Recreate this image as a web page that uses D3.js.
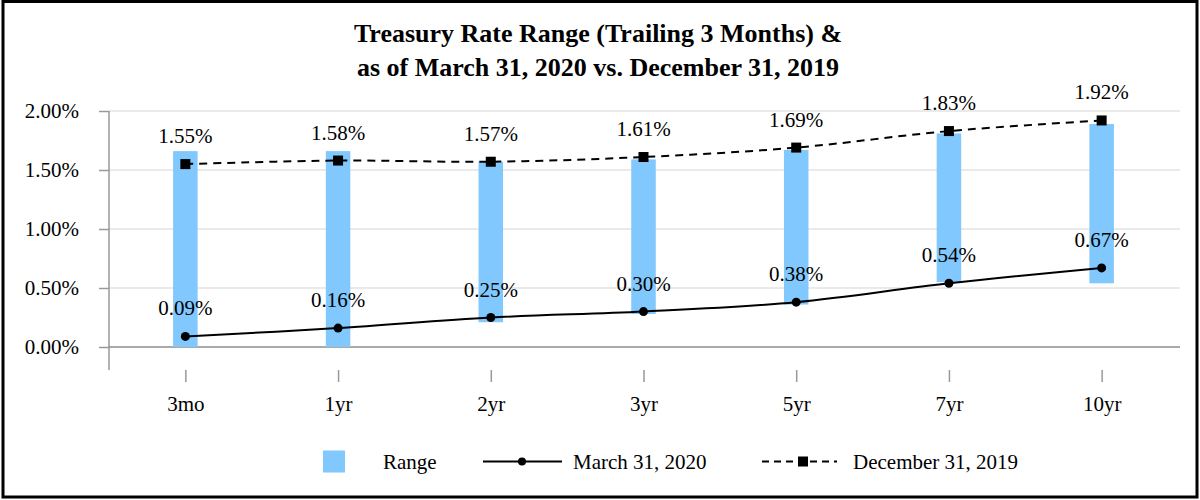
<!DOCTYPE html>
<html>
<head>
<meta charset="utf-8">
<script src="https://cdn.jsdelivr.net/npm/d3@7"></script>
<style>
  body { margin: 0; background: #fff; }
  text { font-family: "Liberation Serif", "Times New Roman", serif; fill: #000; }
</style>
</head>
<body>
<script>
const width = 1200;
const height = 500;

const categories = ["3mo", "1yr", "2yr", "3yr", "5yr", "7yr", "10yr"];
const rangeLow = [0.00, 0.00, 0.21, 0.28, 0.36, 0.55, 0.54];
const rangeHigh = [1.66, 1.66, 1.57, 1.59, 1.67, 1.81, 1.89];
const march2020 = [0.09, 0.16, 0.25, 0.30, 0.38, 0.54, 0.67];
const dec2019 = [1.55, 1.58, 1.57, 1.61, 1.69, 1.83, 1.92];
const yTicks = [0, 0.5, 1.0, 1.5, 2.0];

const svg = d3.select("body")
	.append("svg")
	.attr("width", width)
	.attr("height", height);

svg.append("rect")
	.attr("x", 0).attr("y", 0)
	.attr("width", width).attr("height", height)
	.attr("fill", "#fff");

// frame
svg.append("rect")
	.attr("x", 3).attr("y", 1.5)
	.attr("width", 1194).attr("height", 495.5)
	.attr("fill", "none")
	.attr("stroke", "#000")
	.attr("stroke-width", 3);

// title
const title = svg.append("text")
	.attr("text-anchor", "middle")
	.style("font-weight", "bold")
	.style("font-size", "26px");
title.append("tspan").attr("x", 598).attr("y", 42).text("Treasury Rate Range (Trailing 3 Months) &");
title.append("tspan").attr("x", 598).attr("y", 76).text("as of March 31, 2020 vs. December 31, 2019");

const x = d3.scalePoint()
	.domain(categories)
	.range([109, 1178])
	.padding(0.5);

const y = d3.scaleLinear()
	.domain([0, 2])
	.range([347, 111]);

// gridlines
svg.append("g")
	.selectAll("line")
	.data(yTicks.filter(d => d > 0))
	.enter()
	.append("line")
	.attr("x1", 109).attr("x2", 1180)
	.attr("y1", d => y(d)).attr("y2", d => y(d))
	.attr("stroke", "#e3e3e3")
	.attr("stroke-width", 1.5);

// y axis
const yAxis = svg.append("g")
	.attr("transform", "translate(109,0)")
	.call(d3.axisLeft(y).tickValues(yTicks).tickSize(10).tickSizeOuter(0).tickFormat(d => d3.format(".2f")(d) + "%"));
yAxis.select(".domain").remove();
yAxis.attr("font-family", null).attr("font-size", null);
yAxis.selectAll("line").attr("stroke", "#999").attr("stroke-width", 1.5);
yAxis.selectAll("text")
	.attr("x", -30)
	.style("font-size", "21px");

svg.append("line")
	.attr("x1", 109).attr("x2", 109)
	.attr("y1", 111).attr("y2", 370)
	.attr("stroke", "#999").attr("stroke-width", 1.5);

// zero line
svg.append("line")
	.attr("x1", 109).attr("x2", 1180)
	.attr("y1", y(0)).attr("y2", y(0))
	.attr("stroke", "#8c8c8c").attr("stroke-width", 1.5);

// x axis ticks and labels
const xAxis = svg.append("g")
	.attr("transform", "translate(0,370)")
	.call(d3.axisBottom(x).tickSize(12).tickPadding(14).tickSizeOuter(0));
xAxis.select(".domain").remove();
xAxis.attr("font-family", null).attr("font-size", null);
xAxis.selectAll("line").attr("stroke", "#999").attr("stroke-width", 1.5);
xAxis.selectAll("text")
	.style("font-size", "21px");

// range bars
const barW = 24.5;
svg.append("g")
	.selectAll("rect")
	.data(categories)
	.enter()
	.append("rect")
	.attr("x", d => x(d) - barW / 2)
	.attr("width", barW)
	.attr("y", (d, i) => y(rangeHigh[i]))
	.attr("height", (d, i) => y(rangeLow[i]) - y(rangeHigh[i]))
	.attr("fill", "#80c8fd");

const line = d3.line()
	.x((d, i) => x(categories[i]))
	.y(d => y(d))
	.curve(d3.curveCatmullRom);

// December 31, 2019 dashed
svg.append("path")
	.attr("d", line(dec2019))
	.attr("fill", "none")
	.attr("stroke", "#000")
	.attr("stroke-width", 2)
	.attr("stroke-dasharray", "8,6");

svg.append("g")
	.selectAll("rect")
	.data(dec2019)
	.enter()
	.append("rect")
	.attr("x", (d, i) => x(categories[i]) - 5)
	.attr("y", d => y(d) - 5)
	.attr("width", 10).attr("height", 10)
	.attr("fill", "#000");

// March 31, 2020 solid
svg.append("path")
	.attr("d", line(march2020))
	.attr("fill", "none")
	.attr("stroke", "#000")
	.attr("stroke-width", 2);

svg.append("g")
	.selectAll("circle")
	.data(march2020)
	.enter()
	.append("circle")
	.attr("cx", (d, i) => x(categories[i]))
	.attr("cy", d => y(d))
	.attr("r", 4.5)
	.attr("fill", "#000");

// data labels
const labels = svg.append("g")
	.attr("text-anchor", "middle")
	.style("font-size", "21px");

labels.selectAll(".lblDec")
	.data(dec2019)
	.enter()
	.append("text")
	.attr("class", "lblDec")
	.attr("x", (d, i) => x(categories[i]))
	.attr("y", d => y(d) - 21)
	.text(d => d.toFixed(2) + "%");

labels.selectAll(".lblMar")
	.data(march2020)
	.enter()
	.append("text")
	.attr("class", "lblMar")
	.attr("x", (d, i) => x(categories[i]))
	.attr("y", d => y(d) - 21)
	.text(d => d.toFixed(2) + "%");

// legend
const legend = svg.append("g").style("font-size", "21px");
const ly = 461.5;

legend.append("rect")
	.attr("x", 323).attr("y", ly - 11)
	.attr("width", 22).attr("height", 22)
	.attr("fill", "#80c8fd");
legend.append("text").attr("x", 383).attr("y", ly + 7).text("Range");

legend.append("line")
	.attr("x1", 483).attr("x2", 562)
	.attr("y1", ly).attr("y2", ly)
	.attr("stroke", "#000").attr("stroke-width", 2);
legend.append("circle")
	.attr("cx", 522).attr("cy", ly).attr("r", 4)
	.attr("fill", "#000");
legend.append("text").attr("x", 573).attr("y", ly + 7).text("March 31, 2020");

legend.append("line")
	.attr("x1", 762).attr("x2", 837)
	.attr("y1", ly).attr("y2", ly)
	.attr("stroke", "#000").attr("stroke-width", 2)
	.attr("stroke-dasharray", "7,5");
legend.append("rect")
	.attr("x", 798).attr("y", ly - 5)
	.attr("width", 10).attr("height", 10)
	.attr("fill", "#000");
legend.append("text").attr("x", 853).attr("y", ly + 7).text("December 31, 2019");
</script>
</body>
</html>
